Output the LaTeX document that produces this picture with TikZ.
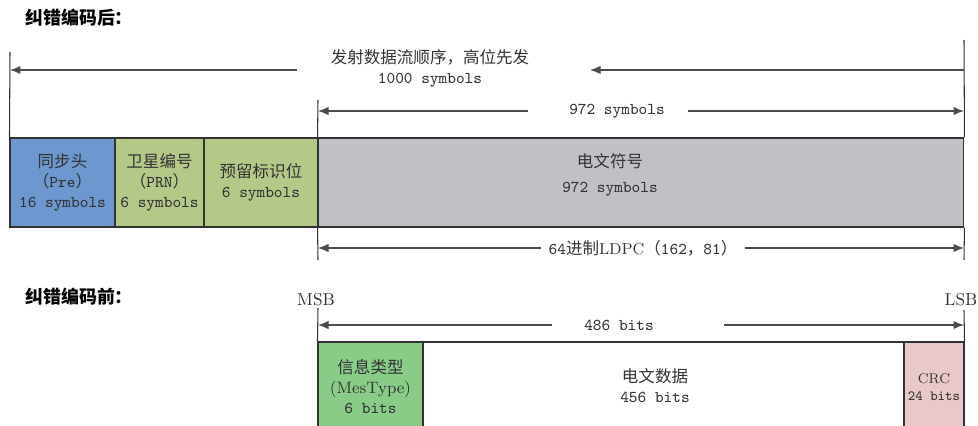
\documentclass[tikz,border=0pt]{standalone}
\usepackage{fontspec}
\newfontfamily\cjk{Noto Sans CJK SC}
\usepackage{tikz}
\usetikzlibrary{arrows.meta}
\definecolor{preblue}{RGB}{108,152,207}
\definecolor{prngreen}{RGB}{180,200,136}
\definecolor{msggray}{RGB}{192,193,197}
\definecolor{typegreen}{RGB}{136,204,136}
\definecolor{crcpink}{RGB}{232,200,200}
\newcommand{\zh}[1]{{\cjk #1}}

\begin{document}
\begin{tikzpicture}[x=0.02cm, y=-0.02cm,
		field/.style={draw=black!80, line width=0.6pt, minimum height=1.78cm, inner sep=0pt, align=center, text=black!80, font=\fontsize{9.4}{11.4}\selectfont\ttfamily},
		label/.style={inner sep=1pt, align=center, text=black!80, font=\fontsize{9.4}{11.4}\selectfont\ttfamily},
		heading/.style={anchor=west, inner sep=0pt, font=\fontsize{10.2}{12}\selectfont\cjk\bfseries},
		dim/.style={-{Latex[length=0.21cm,width=0.17cm]}, line width=0.8pt, draw=black!70},
		tick/.style={line width=0.6pt, draw=black!80}]
			\useasboundingbox (0,0) rectangle (978,426);
			% Headings:
			\node[heading] (after) at (25,18) {纠错编码后：};
			\node[heading] (before) at (25,297) {纠错编码前：};
			% After coding, fields:
			\node[field, fill=preblue, minimum width=2.1cm] (pre) at (62.5,182.5) {\zh{同步头}\\\zh{（}Pre\zh{）}\\16 symbols};
			\node[field, fill=prngreen, minimum width=1.78cm] (prn) at (159.5,182.5) {\zh{卫星编号}\\\zh{（}PRN\zh{）}\\6 symbols};
			\node[field, fill=prngreen, minimum width=2.28cm] (rsv) at (261,182.5) {\zh{预留标识位}\\6 symbols};
			\node[field, fill=msggray, minimum width=12.92cm] (msg) at (641,182.5) {};
			\node[label] (msgtxt) at (610,174.5) {\zh{电文符号}\\[0.1cm]972 symbols};
			% After coding, dimensions:
			\coordinate (tL) at (10,52);
			\coordinate (tR) at (964,40);
			\coordinate (tM) at (318,100);
			\coordinate (bM) at (318,260);
			\coordinate (bR) at (964,260);
			\draw[tick] (tL) -- (pre.north west);
			\draw[tick] (tR) -- (msg.north east);
			\draw[tick] (tM) -- (msg.north west);
			\draw[tick] (msg.south west) -- (bM);
			\draw[tick] (msg.south east) -- (bR);
			\node[label] (order) at (430,68.5) {\zh{发射数据流顺序，高位先发}\\1000 symbols};
			\coordinate (a1) at (297,70);
			\coordinate (a2) at (590,70);
			\draw[dim] (a1) -- (a1 -| tL);
			\draw[dim] (tR |- a1) -- (a2);
			\node[label] (n972) at (617,111) {972 symbols};
			\coordinate (b1) at (528,111);
			\coordinate (b2) at (688,111);
			\draw[dim] (b1) -- (b1 -| tM);
			\draw[dim] (b2) -- (b2 -| tR);
			\node[label, inner sep=4pt] (ldpc) at (643,248) {64\zh{进制}{\rmfamily\fontsize{9}{11}\selectfont LDPC}\zh{（}162\zh{，}81\zh{）}};
			\draw[dim] (ldpc.west) -- (ldpc.west -| bM);
			\draw[dim] (ldpc.east) -- (ldpc.east -| bR);
			% Before coding, fields:
			\node[field, fill=typegreen, minimum width=2.1cm, minimum height=1.8cm] (mtype) at (370.5,387) {\zh{信息类型}\\{\rmfamily(MesType)}\\6 bits};
			\node[field, fill=white, minimum width=9.62cm, minimum height=1.8cm] (data) at (663.5,387) {};
			\node[label] (datatxt) at (655,385.5) {\zh{电文数据}\\456 bits};
			\node[field, fill=crcpink, minimum width=1.2cm, minimum height=1.8cm, font=\fontsize{8}{9.5}\selectfont\ttfamily] (crc) at (934,387) {{\rmfamily CRC}\\24 bits};
			% Before coding, dimensions:
			\node[label, font=\fontsize{9.8}{11}\selectfont\rmfamily] (msb) at (316,300) {MSB};
			\node[label, font=\fontsize{9.8}{11}\selectfont\rmfamily] (lsb) at (961,300) {LSB};
			\coordinate (dL) at (318,308);
			\coordinate (dR) at (964,310);
			\draw[tick] (dL) -- (mtype.north west);
			\draw[tick] (dR) -- (crc.north east);
			\node[label] (n486) at (619,325) {486 bits};
			\coordinate (e1) at (552,325);
			\coordinate (e2) at (724,325);
			\draw[dim] (e1) -- (e1 -| dL);
			\draw[dim] (e2) -- (e2 -| dR);
		\end{tikzpicture}
\end{document}
